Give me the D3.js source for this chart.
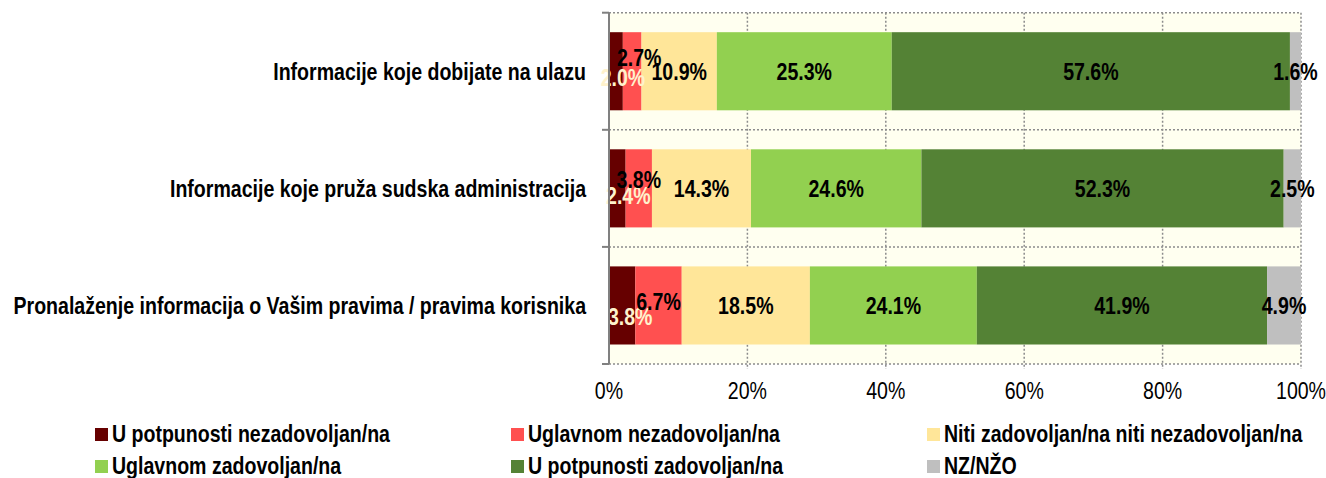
<!DOCTYPE html>
<html><head><meta charset="utf-8">
<script src="https://cdn.jsdelivr.net/npm/d3@7"></script>
<style>
body{margin:0;background:#fff;}
svg text{font-family:"Liberation Sans",Arial,sans-serif;}
</style></head><body>
<svg id="c" width="1326" height="478"></svg>
<script>
const categories = ["Informacije koje dobijate na ulazu","Informacije koje pruža sudska administracija","Pronalaženje informacija o Vašim pravima / pravima korisnika"];
const seriesNames = ["U potpunosti nezadovoljan/na","Uglavnom nezadovoljan/na","Niti zadovoljan/na niti nezadovoljan/na","Uglavnom zadovoljan/na","U potpunosti zadovoljan/na","NZ/NŽO"];
const seriesColors = ["#660000","#FF5050","#FFE699","#92D050","#548235","#BFBFBF"];
const labelColors = ["#FFF2CC","#000","#000","#000","#000","#000"];
const s1 = [2.0, 2.4, 3.8];
const s2 = [2.7, 3.8, 6.7];
const s3 = [10.9, 14.3, 18.5];
const s4 = [25.3, 24.6, 24.1];
const s5 = [57.6, 52.3, 41.9];
const s6 = [1.6, 2.5, 4.9];
const series = [s1,s2,s3,s4,s5,s6];
const xTicks = [0,20,40,60,80,100];
// label nudges (dx, dy) for crowded small segments: [series][category]
const labelNudge = [
  [[7,6],[11,7],[8,11]],
  [[7,-14],[0,-9],[0,-4]],
  [[0,0],[0,0],[0,0]],[[0,0],[0,0],[0,0]],[[0,0],[0,0],[0,0]],[[0,0],[0,0],[0,0]]
];

const FS = 24, SX = 0.815;
function txt(g, px, py, str, opts){
  const t = g.append("text").attr("transform",`translate(${px},${py}) scale(${SX},1)`)
    .attr("font-size",FS).attr("fill",opts.fill||"#000").text(str);
  if(opts.anchor) t.attr("text-anchor",opts.anchor);
  if(opts.bold) t.attr("font-weight","bold");
  return t;
}

const svg = d3.select("#c");
const L = 609, R = 1301, T = 12.7, B = 364;
const x = d3.scaleLinear().domain([0,100]).range([L,R]);
const y = d3.scaleBand().domain(categories).range([T,B]).paddingInner(0.333).paddingOuter(0.1665);
const yb = d3.scaleBand().domain(categories).range([T,B]);

svg.append("rect").attr("x",L).attr("y",T).attr("width",R-L).attr("height",B-T).attr("fill","#FFFFF0");

const gridColor = "#8c8c8c";
const hLines = categories.map(c=>yb(c)).concat([B]);
svg.append("g").selectAll("line").data(hLines).join("line")
  .attr("x1",L).attr("x2",R).attr("y1",d=>d).attr("y2",d=>d)
  .attr("stroke",gridColor).attr("stroke-width",1.5).attr("stroke-dasharray","2,2");
svg.append("g").selectAll("line").data(xTicks.slice(1)).join("line")
  .attr("x1",d=>x(d)).attr("x2",d=>x(d)).attr("y1",T).attr("y2",B+5)
  .attr("stroke",gridColor).attr("stroke-width",1.5).attr("stroke-dasharray","2,2");

// stacked bars (normalized to 100%)
const totals = categories.map((c,i)=>d3.sum(series,s=>s[i]));
const gb = svg.append("g");
series.forEach((s,si)=>{
  s.forEach((v,ci)=>{
    const start = d3.sum(series.slice(0,si),q=>q[ci])/totals[ci]*100;
    const end = start + v/totals[ci]*100;
    gb.append("rect").attr("x",x(start)).attr("y",y(categories[ci]))
      .attr("width",x(end)-x(start)).attr("height",y.bandwidth())
      .attr("fill",seriesColors[si]);
  });
});
const gl = svg.append("g");
series.forEach((s,si)=>{
  s.forEach((v,ci)=>{
    const start = d3.sum(series.slice(0,si),q=>q[ci])/totals[ci]*100;
    const mid = start + v/totals[ci]*50;
    const n = labelNudge[si][ci];
    txt(gl, x(mid)+n[0], y(categories[ci])+y.bandwidth()/2+8.5+n[1], v.toFixed(1)+"%",
      {anchor:"middle", bold:true, fill:labelColors[si]});
  });
});

// left axis
const ax = svg.append("g").attr("transform",`translate(${L},0)`);
ax.append("line").attr("x1",0).attr("x2",0).attr("y1",T).attr("y2",B).attr("stroke","#808080").attr("stroke-width",2);
ax.selectAll(".tk").data(hLines).join("line").attr("class","tk")
  .attr("x1",-7).attr("x2",0).attr("y1",d=>d).attr("y2",d=>d).attr("stroke","#808080").attr("stroke-width",2);

// category labels
const gc = svg.append("g");
categories.forEach(c=>{
  txt(gc, 586, yb(c)+yb.bandwidth()/2+8.5, c, {anchor:"end", bold:true});
});

// x tick labels
const gt = svg.append("g");
xTicks.forEach(d=> txt(gt, x(d), 399, d+"%", {anchor:"middle"}));

// legend
const legX = [95,511,927], legY = [428,460];
const lg = svg.append("g");
seriesNames.forEach((nm,i)=>{
  const cx = legX[i%3], cy = legY[Math.floor(i/3)];
  lg.append("rect").attr("x",cx).attr("y",cy).attr("width",13).attr("height",13).attr("fill",seriesColors[i]);
  txt(lg, cx+17, cy+14, nm, {bold:true});
});
</script></body></html>
